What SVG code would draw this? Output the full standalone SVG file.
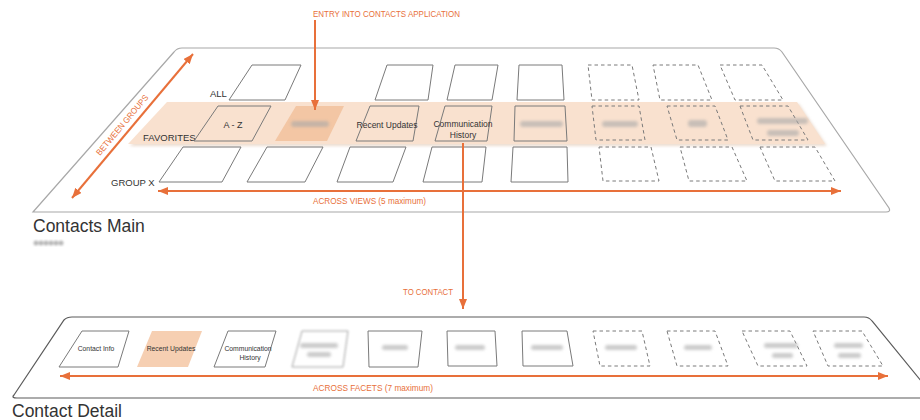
<svg xmlns="http://www.w3.org/2000/svg" width="920" height="420" viewBox="0 0 920 420">
<style>
.plat{fill:#fff;stroke:#a8a8a8;stroke-width:1.2}
.plat2{fill:#fff;stroke:#5a5a5a;stroke-width:1.2}
.card{fill:none;stroke:#7a7a7a;stroke-width:1}
.dash{fill:none;stroke:#7a7a7a;stroke-width:1;stroke-dasharray:3.5 3}
.fill{fill:#f3c6a4;stroke:none}
.fill2{fill:#f6cfb2;stroke:none}
.lbl{font-family:"Liberation Sans",Arial,sans-serif;fill:#333;text-anchor:middle}
.row{font-family:"Liberation Sans",Arial,sans-serif;fill:#333;font-size:9.5px}
.title{font-family:"Liberation Sans",Arial,sans-serif;fill:#333;font-size:17.5px}
.or{font-family:"Liberation Sans",Arial,sans-serif;fill:#e8703a;font-size:8.5px}
.arr{stroke:#e8703a;stroke-width:2;fill:none}
.blur{fill:#a8a8a8;filter:url(#bl);opacity:0.6}
</style>
<defs>
<filter id="bl" x="-50%" y="-100%" width="200%" height="300%"><feGaussianBlur stdDeviation="1.6"/></filter>
<filter id="bl2" x="-20%" y="-20%" width="140%" height="140%"><feGaussianBlur stdDeviation="0.9"/></filter>
<filter id="sh" x="-10%" y="-50%" width="120%" height="200%"><feGaussianBlur stdDeviation="1.5"/></filter>
<marker id="ah" viewBox="0 0 10 8" refX="10" refY="4" markerWidth="10" markerHeight="8" markerUnits="userSpaceOnUse" orient="auto-start-reverse"><path d="M0,0 L10,4 L0,8 Z" fill="#e8703a"/></marker>
</defs>

<g id="contacts-main">
<path class="plat" d="M33,212 L174,52 Q177,48 182,48 L774,48 Q779,48 782,52 L889,208 Q891,212 886,212 Z"/>
<path d="M130,146 L169,104 L799,104 L827,146 Z" fill="#d9b9a0" opacity="0.5" filter="url(#sh)"/>
<path d="M128,144 L167,102 L797,102 L825,144 Z" fill="#f9e1cf"/>
<text class="title" x="33" y="232">Contacts Main</text>
<g fill="#9a9a9a" filter="url(#bl2)" opacity="0.7"><circle cx="36" cy="243" r="2.5"/><circle cx="41" cy="243" r="2.5"/><circle cx="46" cy="243" r="2.5"/><circle cx="51" cy="243" r="2.5"/><circle cx="56" cy="243" r="2.5"/><circle cx="61" cy="243" r="2.5"/></g>
<text class="row" x="210" y="97">ALL</text>
<text class="row" x="143" y="141">FAVORITES</text>
<text class="row" x="111" y="186">GROUP X</text>
</g>

<g id="all-row">
<path class="card" d="M252,65 L301,65 L285,100 L229,100 Z"/>
<path class="card" d="M387,65 L433,65 L428,100 L375,100 Z"/>
<path class="card" d="M455,65 L498,65 L492,100 L447,100 Z"/>
<path class="card" d="M519,65 L562,65 L564,100 L517,100 Z"/>
<path class="dash" d="M588,65 L632,65 L639,100 L592,100 Z"/>
<path class="dash" d="M653,65 L698,65 L712,100 L660,100 Z"/>
<path class="dash" d="M720,65 L762,65 L783,100 L735,100 Z"/>
</g>

<g id="favorites-row">
<g id="fav-az"><path class="card" d="M218,106 L271,106 L252,141 L194,141 Z"/><text class="lbl" x="233" y="128" font-size="9">A - Z</text></g>
<g id="fav-snapshot"><path class="fill" d="M296,106 L344,106 L327,141 L275,141 Z"/><rect class="blur" x="291" y="121" width="38" height="6" rx="3"/></g>
<g id="fav-recent"><path class="card" d="M370,106 L419,106 L413,141 L356,141 Z"/><text class="lbl" x="387" y="128" font-size="8.5">Recent Updates</text></g>
<g id="fav-comm"><path class="card" d="M445,106 L492,106 L487,141 L435,141 Z"/><text class="lbl" x="463" y="127" font-size="8.5">Communication</text><text class="lbl" x="463" y="138" font-size="8.5">History</text></g>
<g id="fav-upcoming"><path class="card" d="M515,106 L565,106 L567,141 L514,141 Z"/><rect class="blur" x="520" y="121" width="43" height="6" rx="3"/></g>
<g id="fav-location"><path class="dash" d="M592,106 L639,106 L645,140 L596,140 Z"/><rect class="blur" x="602" y="121" width="36" height="6" rx="3"/></g>
<g id="fav-tags"><path class="dash" d="M667,106 L715,106 L728,140 L677,140 Z"/><rect class="blur" x="688" y="120" width="19" height="7" rx="3"/></g>
<g id="fav-nondisplay"><path class="dash" d="M740,106 L788,106 L808,140 L753,140 Z"/><rect class="blur" x="757" y="118" width="51" height="6" rx="3"/><rect class="blur" x="767" y="130" width="32" height="6" rx="3"/></g>
</g>

<g id="groupx-row">
<path class="card" d="M183,147 L241,147 L222,182 L159,182 Z"/>
<path class="card" d="M267,147 L323,147 L305,182 L247,182 Z"/>
<path class="card" d="M350,147 L406,147 L393,182 L337,182 Z"/>
<path class="card" d="M432,147 L486,147 L482,182 L423,182 Z"/>
<path class="card" d="M513,147 L567,147 L568,182 L511,182 Z"/>
<path class="dash" d="M599,147 L651,147 L659,181 L603,181 Z"/>
<path class="dash" d="M680,147 L732,147 L747,181 L689,181 Z"/>
<path class="dash" d="M760,147 L815,147 L835,181 L775,181 Z"/>
</g>

<g id="contact-detail">
<path class="plat2" d="M14,395 L64,320 Q67,317 72,317 L864,317 Q869,317 872,321 L935,398 L17,398 Q11,398 14,395 Z"/>
<text class="title" x="12" y="417">Contact Detail</text>
<g id="cd-info"><path class="card" d="M82,331 L129,331 L118,367 L59,367 Z"/><text class="lbl" x="96" y="351" font-size="6.8">Contact Info</text></g>
<g id="cd-recent"><path class="fill2" d="M152,331 L202,331 L188,367 L137,367 Z"/><text class="lbl" x="171" y="351" font-size="6.8">Recent Updates</text></g>
<g id="cd-comm"><path class="card" d="M228,331 L276,331 L265,367 L214,367 Z"/><text class="lbl" x="248" y="351" font-size="6.8">Communication</text><text class="lbl" x="250" y="360" font-size="6.8">History</text></g>
<g id="cd-4"><path class="card" d="M302,331 L348,331 L343,367 L292,367 Z" filter="url(#bl2)" opacity="0.7"/><rect class="blur" x="300" y="343" width="38" height="5" rx="2.5"/><rect class="blur" x="307" y="352" width="24" height="5" rx="2.5"/></g>
<g id="cd-5"><path class="card" d="M368,331 L422,331 L418,367 L369,367 Z"/><rect class="blur" x="382" y="345" width="26" height="5" rx="2.5"/></g>
<g id="cd-6"><path class="card" d="M447,331 L495,331 L497,366 L448,366 Z"/><rect class="blur" x="455" y="345" width="30" height="5" rx="2.5"/></g>
<g id="cd-7"><path class="card" d="M522,331 L567,331 L573,366 L523,366 Z"/><rect class="blur" x="531" y="345" width="32" height="5" rx="2.5"/></g>
<g id="cd-8"><path class="dash" d="M593,331 L642,331 L650,366 L600,366 Z"/><rect class="blur" x="605" y="345" width="32" height="5" rx="2.5"/></g>
<g id="cd-9"><path class="dash" d="M667,331 L715,331 L728,366 L677,366 Z"/><rect class="blur" x="684" y="345" width="28" height="5" rx="2.5"/></g>
<g id="cd-10"><path class="dash" d="M742,331 L790,331 L807,366 L758,366 Z"/><rect class="blur" x="764" y="343" width="34" height="5" rx="2.5"/><rect class="blur" x="772" y="353" width="21" height="5" rx="2.5"/></g>
<g id="cd-11"><path class="dash" d="M813,331 L862,331 L883,366 L828,366 Z"/><rect class="blur" x="834" y="343" width="29" height="5" rx="2.5"/><rect class="blur" x="838" y="353" width="23" height="5" rx="2.5"/></g>
</g>

<g id="connectors">
<line class="arr" x1="315" y1="20" x2="315" y2="110" marker-end="url(#ah)"/>
<text class="or" x="313" y="17" textLength="147" lengthAdjust="spacingAndGlyphs">ENTRY INTO CONTACTS APPLICATION</text>
<line class="arr" x1="72" y1="198" x2="193" y2="54" marker-start="url(#ah)" marker-end="url(#ah)"/>
<text class="or" transform="translate(100,156) rotate(-50)" textLength="76" lengthAdjust="spacingAndGlyphs">BETWEEN GROUPS</text>
<line class="arr" x1="158" y1="191" x2="841" y2="191" marker-start="url(#ah)" marker-end="url(#ah)"/>
<text class="or" x="313" y="204" textLength="113" lengthAdjust="spacingAndGlyphs">ACROSS VIEWS (5 maximum)</text>
<line class="arr" x1="463" y1="143" x2="463" y2="309" marker-end="url(#ah)"/>
<text class="or" x="403" y="295" textLength="50" lengthAdjust="spacingAndGlyphs">TO CONTACT</text>
<line class="arr" x1="60" y1="376" x2="888" y2="376" marker-start="url(#ah)" marker-end="url(#ah)"/>
<text class="or" x="313" y="391" textLength="120" lengthAdjust="spacingAndGlyphs">ACROSS FACETS  (7 maximum)</text>
</g>
</svg>
